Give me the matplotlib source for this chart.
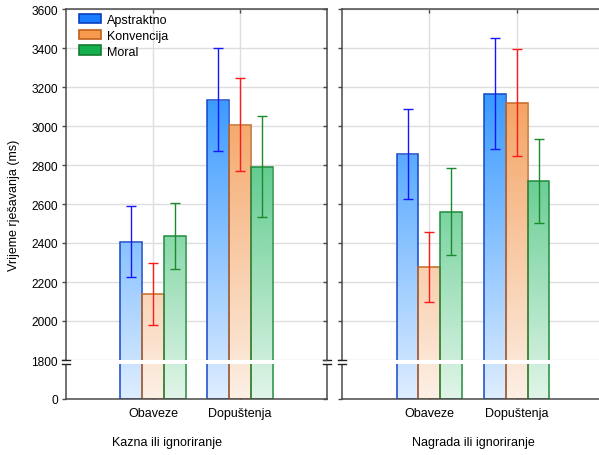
import numpy as np
import matplotlib
matplotlib.use("Agg")
import matplotlib.pyplot as plt
import matplotlib.transforms as mtransforms
from matplotlib.patches import Rectangle, Patch
from matplotlib.lines import Line2D
from matplotlib.colors import LinearSegmentedColormap

plt.rcParams['font.family'] = ['Liberation Sans', 'DejaVu Sans']

# ---------------- data ----------------
categories = ["Obaveze", "Dopuštenja"]
series_names = ["Apstraktno", "Konvencija", "Moral"]
panel_titles = ["Kazna ili ignoriranje", "Nagrada ili ignoriranje"]

# Panel 1: Kazna ili ignoriranje
kazna_apstraktno = [2405, 3132]
kazna_apstraktno_lo = [2225, 2870]
kazna_apstraktno_hi = [2590, 3398]
kazna_konvencija = [2140, 3005]
kazna_konvencija_lo = [1980, 2768]
kazna_konvencija_hi = [2300, 3246]
kazna_moral = [2437, 2792]
kazna_moral_lo = [2267, 2535]
kazna_moral_hi = [2607, 3053]

# Panel 2: Nagrada ili ignoriranje
nagrada_apstraktno = [2856, 3166]
nagrada_apstraktno_lo = [2628, 2880]
nagrada_apstraktno_hi = [3087, 3451]
nagrada_konvencija = [2277, 3118]
nagrada_konvencija_lo = [2099, 2846]
nagrada_konvencija_hi = [2455, 3393]
nagrada_moral = [2561, 2718]
nagrada_moral_lo = [2340, 2503]
nagrada_moral_hi = [2785, 2935]

ytick_values = [0, 1800, 2000, 2200, 2400, 2600, 2800, 3000, 3200, 3400, 3600]
y_break = 1800
y_max = 3600

# ---------------- styles ----------------
top_colors = [(0.04, 0.51, 1.0), (0.95, 0.55, 0.23), (0.05, 0.69, 0.33)]
pale_colors = [(0.87, 0.93, 1.0), (0.99, 0.94, 0.90), (0.88, 0.96, 0.91)]
edge_colors = ['#1448c8', '#c46a22', '#1f8a3c']
legend_fill = ['#1a7dff', '#f7994f', '#14b050']
legend_edge = ['#0a3fbf', '#c0601a', '#137a30']
err_colors = ['#1515ff', '#ff1a1a', '#1a8a2a']


def fwd(y):
    y = np.asarray(y, dtype=float)
    return np.where(y >= y_break, y, (y_break - 200) + y * 200.0 / y_break)


def inv(v):
    v = np.asarray(v, dtype=float)
    return np.where(v >= y_break, v, (v - (y_break - 200)) * y_break / 200.0)


W, H = 599, 456
fig = plt.figure(figsize=(W / 100, H / 100), dpi=100)

ax_left_px = [66, 342]
ax_right_px = [327, 604]
top_px, bot_px = 10, 400

panel_data = [
    [(kazna_apstraktno, kazna_apstraktno_lo, kazna_apstraktno_hi),
     (kazna_konvencija, kazna_konvencija_lo, kazna_konvencija_hi),
     (kazna_moral, kazna_moral_lo, kazna_moral_hi)],
    [(nagrada_apstraktno, nagrada_apstraktno_lo, nagrada_apstraktno_hi),
     (nagrada_konvencija, nagrada_konvencija_lo, nagrada_konvencija_hi),
     (nagrada_moral, nagrada_moral_lo, nagrada_moral_hi)],
]

spine_col = '#4a4a4a'
bar_w = 0.25
offsets = [-0.25, 0.0, 0.25]
x = np.arange(len(categories))
grad = np.linspace(0, 1, 256).reshape(-1, 1)

for p in range(2):
    l = ax_left_px[p] / W
    w = (ax_right_px[p] - ax_left_px[p]) / W
    b = (H - bot_px) / H
    h = (bot_px - top_px) / H
    ax = fig.add_axes([l, b, w, h])
    ax.set_yscale('function', functions=(fwd, inv))
    ax.set_ylim(0, y_max)
    ax.set_xlim(-1, 2)
    ax.set_axisbelow(True)
    ax.grid(True, color='#dedede', lw=1.0)
    blend = mtransforms.blended_transform_factory(ax.transData, ax.transAxes)

    for s in range(3):
        means, lo, hi = panel_data[p][s]
        xs = x + offsets[s]
        bars = ax.bar(xs, means, width=bar_w, facecolor='none',
                      edgecolor=edge_colors[s], linewidth=1.1, zorder=2)
        cmap = LinearSegmentedColormap.from_list('g%d' % s, [pale_colors[s], top_colors[s]])
        for rect, xc in zip(bars.patches, xs):
            im = ax.imshow(grad, extent=(xc - bar_w / 2, xc + bar_w / 2, 0, 1),
                           transform=blend, origin='lower', aspect='auto',
                           cmap=cmap, vmin=0, vmax=1, zorder=1.5,
                           interpolation='bilinear')
            im.set_clip_path(rect)
        means_a = np.asarray(means, float)
        yerr = [means_a - np.asarray(lo, float), np.asarray(hi, float) - means_a]
        ax.errorbar(xs, means_a, yerr=yerr, fmt='none', ecolor=err_colors[s],
                    elinewidth=1.0, capsize=3.8, capthick=1.0, zorder=3)

    ax.set_xlim(-1, 2)
    ax.set_ylim(0, y_max)
    ax.set_yticks(ytick_values)
    ax.set_xticks(x)
    ax.set_xticklabels(categories, fontsize=9)
    ax.tick_params(axis='x', which='both', direction='in', top=True, bottom=True,
                   length=3, width=1, color=spine_col, pad=6)
    ax.tick_params(axis='y', which='both', direction='out', left=True, right=False,
                   length=3, width=1, color=spine_col, pad=3, labelsize=8.6)
    ax.minorticks_off()
    if p == 1:
        ax.set_yticklabels([])
    else:
        ax.set_yticklabels([str(v) for v in ytick_values])
    for sp in ax.spines.values():
        sp.set_color(spine_col)
        sp.set_linewidth(1.1)

    # inward ticks on the right spine
    tw = ax.twinx()
    tw.set_yscale('function', functions=(fwd, inv))
    tw.set_ylim(0, y_max)
    tw.set_yticks(ytick_values)
    tw.set_yticklabels([])
    tw.minorticks_off()
    tw.tick_params(axis='y', direction='in', length=3, width=1, color=spine_col)
    for sp in tw.spines.values():
        sp.set_visible(False)

    # axis break at 1800
    fb = ax.transAxes.inverted().transform(ax.transData.transform((0, y_break)))[1]
    gap = 3.5 / (bot_px - top_px)
    ax.add_patch(Rectangle((0, fb - gap), 1, gap, transform=ax.transAxes,
                           facecolor='white', edgecolor='none', zorder=2.6))
    for xs_sp in (0.0, 1.0):
        ax.add_patch(Rectangle((xs_sp - 0.01, fb - gap), 0.02, gap, transform=ax.transAxes,
                               facecolor='white', edgecolor='none', zorder=5, clip_on=False))
        dx = 4.0 / (ax_right_px[p] - ax_left_px[p])
        for yy in (fb, fb - gap):
            ax.add_line(Line2D([xs_sp - dx, xs_sp + dx], [yy, yy], transform=ax.transAxes,
                               color='#222222', lw=1.0, zorder=6, clip_on=False))

    if p == 0:
        handles = [Patch(facecolor=legend_fill[i], edgecolor=legend_edge[i], linewidth=1.2)
                   for i in range(3)]
        ax.legend(handles, series_names, loc='upper left', bbox_to_anchor=(0.05, 0.988),
                  frameon=False, fontsize=9, handlelength=1.75, handleheight=0.8,
                  handletextpad=0.5, labelspacing=0.3, borderpad=0, borderaxespad=0)

fig.text(167 / W, 1 - 443 / H, panel_titles[0], ha='center', va='center', fontsize=9)
fig.text(473 / W, 1 - 443 / H, panel_titles[1], ha='center', va='center', fontsize=9)
fig.text(14 / W, 1 - 205 / H, "Vrijeme rješavanja (ms)", rotation=90,
         ha='center', va='center', fontsize=9)

fig.savefig("out.png", dpi=100, facecolor='white')
